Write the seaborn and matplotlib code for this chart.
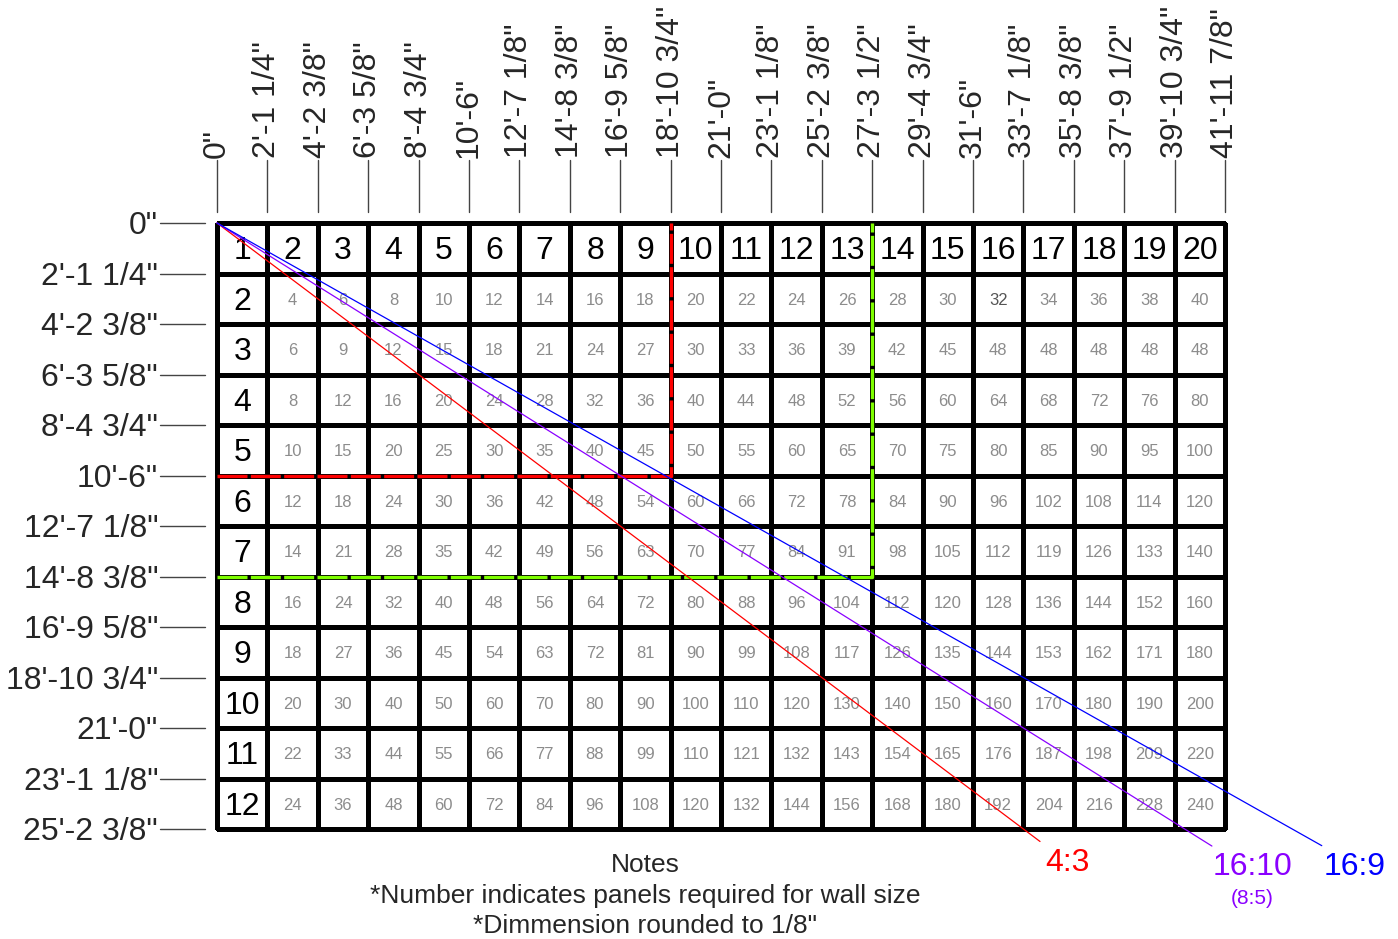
import numpy as np
import pandas as pd
import matplotlib
matplotlib.use("Agg")
import matplotlib.pyplot as plt
from matplotlib.colors import ListedColormap
import seaborn as sns

# Panel counts along each side
panel_cols = list(range(1, 21))
panel_rows = list(range(1, 13))

# Wall dimensions at each panel boundary
width_labels = ['0"', "2'-1 1/4\"", "4'-2 3/8\"", "6'-3 5/8\"", "8'-4 3/4\"", "10'-6\"",
                "12'-7 1/8\"", "14'-8 3/8\"", "16'-9 5/8\"", "18'-10 3/4\"", "21'-0\"",
                "23'-1 1/8\"", "25'-2 3/8\"", "27'-3 1/2\"", "29'-4 3/4\"", "31'-6\"",
                "33'-7 1/8\"", "35'-8 3/8\"", "37'-9 1/2\"", "39'-10 3/4\"", "41'-11 7/8\""]
height_labels = width_labels[:13]

# Panels required (rows 2..12, columns 2..20), as printed
panel_counts = [
    [4, 6, 8, 10, 12, 14, 16, 18, 20, 22, 24, 26, 28, 30, 32, 34, 36, 38, 40],
    [6, 9, 12, 15, 18, 21, 24, 27, 30, 33, 36, 39, 42, 45, 48, 48, 48, 48, 48],
    [8, 12, 16, 20, 24, 28, 32, 36, 40, 44, 48, 52, 56, 60, 64, 68, 72, 76, 80],
    [10, 15, 20, 25, 30, 35, 40, 45, 50, 55, 60, 65, 70, 75, 80, 85, 90, 95, 100],
    [12, 18, 24, 30, 36, 42, 48, 54, 60, 66, 72, 78, 84, 90, 96, 102, 108, 114, 120],
    [14, 21, 28, 35, 42, 49, 56, 63, 70, 77, 84, 91, 98, 105, 112, 119, 126, 133, 140],
    [16, 24, 32, 40, 48, 56, 64, 72, 80, 88, 96, 104, 112, 120, 128, 136, 144, 152, 160],
    [18, 27, 36, 45, 54, 63, 72, 81, 90, 99, 108, 117, 126, 135, 144, 153, 162, 171, 180],
    [20, 30, 40, 50, 60, 70, 80, 90, 100, 110, 120, 130, 140, 150, 160, 170, 180, 190, 200],
    [22, 33, 44, 55, 66, 77, 88, 99, 110, 121, 132, 143, 154, 165, 176, 187, 198, 209, 220],
    [24, 36, 48, 60, 72, 84, 96, 108, 120, 132, 144, 156, 168, 180, 192, 204, 216, 228, 240],
]

# Aspect ratio guides
ratio_names = ["4:3", "16:10", "16:9"]
ratio_values = [3 / 4, 10 / 16, 9 / 16]
ratio_colors = ["#ff0000", "#8a00ff", "#0000ff"]
ratio_end_x = [16.33, 19.74, 21.92]
ratio_label_dx = [0.55, 0.8, 0.65]

# Highlighted boxes (panels wide, panels high)
box_sizes = [(9, 5), (13, 7)]
box_colors = ["#ff0000", "#7fff00"]

notes = ["Notes", "*Number indicates panels required for wall size", "*Dimmension rounded to 1/8\""]

sns.set_style("white")
plt.rcParams['font.family'] = ['Liberation Sans', 'DejaVu Sans']

W, H = 1398, 939
fig = plt.figure(figsize=(W / 100, H / 100), dpi=100)
ax = fig.add_axes([0, 0, 1, 1])

# grid via heatmap (all white cells, black borders)
grid = pd.DataFrame(np.zeros((len(panel_rows), len(panel_cols))), index=panel_rows, columns=panel_cols)
sns.heatmap(grid, ax=ax, cmap=ListedColormap(["white"]), cbar=False,
            linewidths=2.2, linecolor="black", annot=False)

# map figure pixels to data units
x0, y0, cw, ch = 217, 223, 50.4, 50.5
ax.axis("off")

dy = 0.06  # nudge text down to visual centre
# header row / column
for c in panel_cols:
    ax.text(c - 0.5, 0.5 + dy, str(c), ha="center", va="center", fontsize=23, color="black")
for r in panel_rows[1:]:
    ax.text(0.5, r - 0.5 + dy, str(r), ha="center", va="center", fontsize=23, color="black")

# cell counts
for i, row in enumerate(panel_counts):
    for j, val in enumerate(row):
        col = "#555555" if (i, j) == (0, 14) else "#8c8c8c"
        ax.text(j + 1.5, i + 1.5 + 0.03, str(val), ha="center", va="center", fontsize=12, color=col)

# dimension ticks on top
for k, lab in enumerate(width_labels):
    ax.plot([k, k], [(160 - y0) / ch, (212 - y0) / ch], color="#444444", lw=1, clip_on=False)
    ax.text(k, (158 - y0) / ch, lab, rotation=90, ha="center", va="bottom", fontsize=23)

# dimension ticks on left
for k, lab in enumerate(height_labels):
    ax.plot([(160 - x0) / cw, (205 - x0) / cw], [k, k], color="#444444", lw=1, clip_on=False)
    ax.text((158 - x0) / cw, k + dy, lab, ha="right", va="center", fontsize=23)

# highlighted boxes
for (bw, bh), bc in zip(box_sizes, box_colors):
    ax.plot([0, bw, bw], [bh, bh, 0], color=bc, lw=2.4, linestyle=(0, (9, 1.0)),
            solid_capstyle="butt", zorder=5)

# aspect ratio diagonals
for name, rv, rc, ex, ldx in zip(ratio_names, ratio_values, ratio_colors, ratio_end_x, ratio_label_dx):
    sns.lineplot(x=[0, ex], y=[0, ex * rv], color=rc, lw=0.9, ax=ax, zorder=6)
    ax.text(ex + ldx, ex * rv + 0.42, name, ha="center", va="center", fontsize=23, color=rc)
    if name == "16:10":
        ax.text(ex + ldx, ex * rv + 1.04, "(8:5)", ha="center", va="center", fontsize=15, color=rc)

for k, line in enumerate(notes):
    ax.text(8.5, 12.72 + k * 0.6, line, ha="center", va="center", fontsize=19)

ax.set_xlim(-x0 / cw, (W - x0) / cw)
ax.set_ylim((H - y0) / ch, -y0 / ch)
fig.savefig("out.png", dpi=100)
